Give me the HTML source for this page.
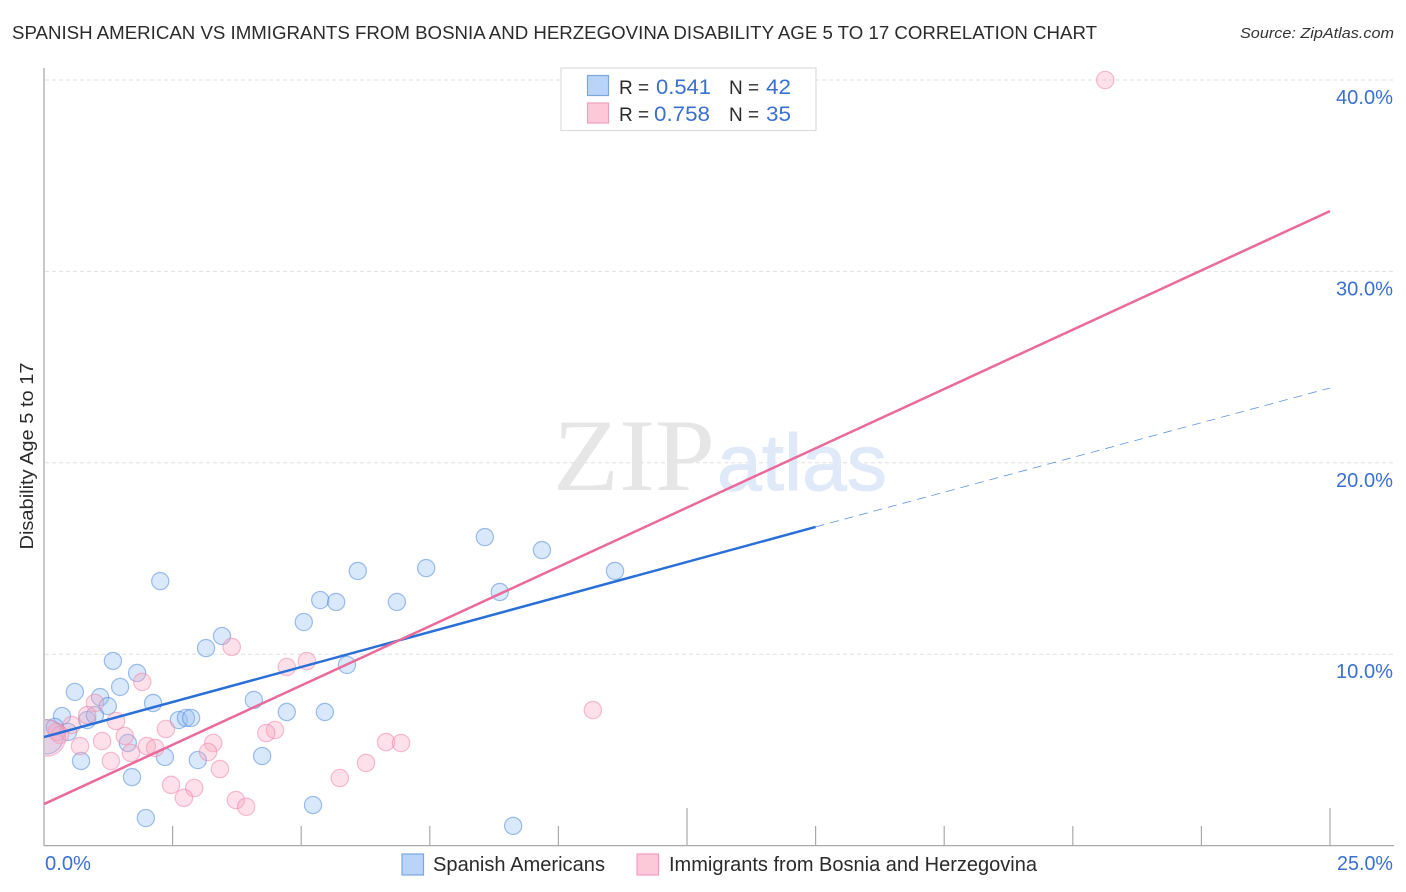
<!DOCTYPE html>
<html lang="en">
<head>
<meta charset="utf-8">
<title>Spanish American vs Immigrants from Bosnia and Herzegovina Disability Age 5 to 17 Correlation Chart</title>
<style>
html,body{margin:0;padding:0;background:#fff;width:1406px;height:892px;overflow:hidden}
svg{display:block;font-family:"Liberation Sans",sans-serif}
</style>
</head>
<body>
<svg id="chart" width="1406" height="892" viewBox="0 0 1406 892" xmlns="http://www.w3.org/2000/svg">
  <defs><clipPath id="plot-clip"><rect x="45" y="60" width="1349" height="785"/></clipPath></defs>

  <text x="12" y="39" font-size="18.5" fill="#2b2b2b" textLength="1085" lengthAdjust="spacingAndGlyphs">SPANISH AMERICAN VS IMMIGRANTS FROM BOSNIA AND HERZEGOVINA DISABILITY AGE 5 TO 17 CORRELATION CHART</text>
  <text x="1394" y="38" font-size="15" font-style="italic" fill="#333" text-anchor="end" textLength="154" lengthAdjust="spacingAndGlyphs">Source: ZipAtlas.com</text>

  <g id="grid"></g>

  <text x="553" y="490" font-family="'Liberation Serif',serif" font-size="103" fill="#e6e6e6" textLength="162" lengthAdjust="spacingAndGlyphs">ZIP</text>
  <text x="717" y="490" font-size="80" fill="#dfe9f8" stroke="#dfe9f8" stroke-width="1" textLength="170" lengthAdjust="spacingAndGlyphs">atlas</text>

  <g id="axes"></g>
  <g id="points" clip-path="url(#plot-clip)"></g>
  <g id="lines"></g>
  <g id="tick-labels"></g>

  <text transform="translate(33,456) rotate(-90)" font-size="18" fill="#2b2b2b" text-anchor="middle" textLength="187" lengthAdjust="spacingAndGlyphs">Disability Age 5 to 17</text>

  <g>
    <rect x="561" y="68" width="255" height="62.5" fill="#fff" stroke="#dcdcdc" stroke-width="1.2"/>
    <rect x="587.5" y="75.5" width="21" height="20" fill="#b9d4f8" stroke="#7ba6de" stroke-width="1.2"/>
    <rect x="587.5" y="103" width="21" height="20" fill="#fcc9d9" stroke="#f0a0ba" stroke-width="1.2"/>
    <text x="619" y="94" font-size="19" fill="#2b2b2b">R =</text>
    <text x="656" y="94" font-size="21" fill="#3a70d0" textLength="55" lengthAdjust="spacingAndGlyphs">0.541</text>
    <text x="729" y="94" font-size="19" fill="#2b2b2b">N =</text>
    <text x="766" y="94" font-size="21" fill="#3a70d0" textLength="25" lengthAdjust="spacingAndGlyphs">42</text>
    <text x="619" y="121" font-size="19" fill="#2b2b2b">R =</text>
    <text x="654" y="121" font-size="21" fill="#3a70d0" textLength="56" lengthAdjust="spacingAndGlyphs">0.758</text>
    <text x="729" y="121" font-size="19" fill="#2b2b2b">N =</text>
    <text x="766" y="121" font-size="21" fill="#3a70d0" textLength="25" lengthAdjust="spacingAndGlyphs">35</text>
  </g>

  <g>
    <rect x="402" y="854" width="21.5" height="21" fill="#b9d4f8" stroke="#7ba6de" stroke-width="1.2"/>
    <text x="433" y="871" font-size="20" fill="#2b2b2b" textLength="172" lengthAdjust="spacingAndGlyphs">Spanish Americans</text>
    <rect x="637" y="854" width="21.5" height="21" fill="#fcc9d9" stroke="#f0a0ba" stroke-width="1.2"/>
    <text x="669" y="871" font-size="20" fill="#2b2b2b" textLength="368" lengthAdjust="spacingAndGlyphs">Immigrants from Bosnia and Herzegovina</text>
  </g>
</svg>
<script>
// ---- chart data ----
const blueX = [0.04,2.26,8.57,9.68,7.43,6.10,11.10,8.86,5.37,5.68,6.86,5.05,3.46,3.15,1.34,1.81,5.89,1.48,0.60,1.09,1.24,2.12,4.08,4.72,5.46,0.35,0.84,0.99,2.62,2.76,2.86,0.21,0.47,1.63,2.35,2.99,4.24,0.72,1.71,1.98,5.23,9.12];
const blueY = [5.68,13.82,16.12,15.44,14.50,14.35,14.35,13.25,12.83,12.73,12.73,11.68,10.95,10.32,9.65,9.02,9.44,8.29,8.03,7.76,7.29,7.45,7.61,6.98,6.98,6.77,6.56,6.82,6.56,6.67,6.67,6.20,5.94,5.36,4.63,4.47,4.68,4.42,3.58,1.44,2.12,1.03];
const blueWeight = [4,1,1,1,1,1,1,1,1,1,1,1,1,1,1,1,1,1,1,1,1,1,1,1,1,1,1,1,1,1,1,1,1,1,1,1,1,1,1,1,1,1];
const pinkX = [20.63,10.67,3.65,4.72,5.11,1.91,0.99,0.84,1.40,0.54,2.37,4.49,4.32,1.57,1.13,3.29,6.65,6.94,0.70,2.00,2.16,1.69,3.19,1.30,6.26,3.42,5.75,2.47,2.92,2.72,3.73,3.93,0.25,0.31,0.06];
const pinkY = [40.0,7.08,10.38,9.33,9.64,8.55,7.45,6.82,6.51,6.30,6.09,6.04,5.88,5.73,5.46,5.36,5.41,5.36,5.20,5.20,5.10,4.84,4.89,4.42,4.32,4.00,3.53,3.17,3.01,2.49,2.38,2.03,5.94,5.78,5.63];
const pinkWeight = [1,1,1,1,1,1,1,1,1,1,1,1,1,1,1,1,1,1,1,1,1,1,1,1,1,1,1,1,1,1,1,1,1,1,4.4];
const blueTrendX = [0,15];
const blueTrendY = [5.67,16.65];
const blueDashX = [15,25];
const blueDashY = [16.65,23.91];
const pinkTrendX = [0,25];
const pinkTrendY = [2.17,33.15];
const yTicks = [10,20,30,40];
const yTickLabels = ["10.0%","20.0%","30.0%","40.0%"];
const xTicks = [2.5,5,7.5,10,12.5,15,17.5,20,22.5,25];
const xMajorTicks = [12.5,25];
const xEndLabels = ["0.0%","25.0%"];

// ---- axis functions ----
const NS = 'http://www.w3.org/2000/svg';
const X0 = 44, X1 = 1330, XMAX = 25;
const Y0 = 845.6, Y40 = 80;
const sx = v => X0 + (v / XMAX) * (X1 - X0);
const sy = v => Y0 - (v / 40) * (Y0 - Y40);
function mk(parent, tag, attrs) {
  const el = document.createElementNS(NS, tag);
  for (const k in attrs) el.setAttribute(k, attrs[k]);
  parent.appendChild(el);
  return el;
}
const gGrid = document.getElementById('grid');
const gAxes = document.getElementById('axes');
const gPts = document.getElementById('points');
const gLines = document.getElementById('lines');
const gLabels = document.getElementById('tick-labels');

// gridlines + y labels
yTicks.forEach((t, i) => {
  const g = mk(gGrid, 'line', {x1: 45, x2: 1394, y1: sy(t), y2: sy(t), stroke: '#e0e0e0', 'stroke-width': 1, 'stroke-dasharray': '4 3'});
  
  
  const l = mk(gLabels, 'text', {x: 1393, y: sy(t) + 24, 'font-size': 20, fill: '#3a70d0', 'text-anchor': 'end', textLength: 57, lengthAdjust: 'spacingAndGlyphs'});
  
  
  l.textContent = yTickLabels[i];
});

// axes
const yAxis = mk(gAxes, 'line', {x1: X0, x2: X0, y1: 68, y2: 846, stroke: '#aaaaaa', 'stroke-width': 1.3});


const xAxis = mk(gAxes, 'line', {x1: X0, x2: 1394, y1: 845.6, y2: 845.6, stroke: '#aaaaaa', 'stroke-width': 1.3});


xTicks.forEach(t => {
  const top = xMajorTicks.includes(t) ? 808 : 826;
  const k = mk(gAxes, 'line', {x1: sx(t), x2: sx(t), y1: top, y2: 845.6, stroke: '#aaaaaa', 'stroke-width': 1.2});
  
  
});
const xl0 = mk(gLabels, 'text', {x: 45, y: 870, 'font-size': 20, fill: '#3a70d0', textLength: 46, lengthAdjust: 'spacingAndGlyphs'});


xl0.textContent = xEndLabels[0];
const xl1 = mk(gLabels, 'text', {x: 1393, y: 870, 'font-size': 20, fill: '#3a70d0', 'text-anchor': 'end', textLength: 56, lengthAdjust: 'spacingAndGlyphs'});


xl1.textContent = xEndLabels[1];

// points
blueX.forEach((v, i) => {
  const c = mk(gPts, 'circle', {cx: sx(v), cy: sy(blueY[i]), r: 8.6 * Math.sqrt(blueWeight[i]), fill: 'rgba(150,190,240,0.36)', stroke: 'rgba(70,130,215,0.5)', 'stroke-width': 1.2});
  
  
});
pinkX.forEach((v, i) => {
  const c = mk(gPts, 'circle', {cx: sx(v), cy: sy(pinkY[i]), r: 8.7 * Math.sqrt(pinkWeight[i]), fill: 'rgba(250,170,195,0.36)', stroke: 'rgba(238,130,165,0.5)', 'stroke-width': 1.2});
  
  
});

// trend lines
const ld = mk(gLines, 'line', {x1: sx(blueDashX[0]), y1: sy(blueDashY[0]), x2: sx(blueDashX[1]), y2: sy(blueDashY[1]), stroke: '#2a6fd8', 'stroke-width': 0.8, 'stroke-dasharray': '9 6', opacity: 0.75});


const lb = mk(gLines, 'line', {x1: sx(blueTrendX[0]), y1: sy(blueTrendY[0]), x2: sx(blueTrendX[1]), y2: sy(blueTrendY[1]), stroke: '#2a6fd8', 'stroke-width': 2.5});


const lp = mk(gLines, 'line', {x1: sx(pinkTrendX[0]), y1: sy(pinkTrendY[0]), x2: sx(pinkTrendX[1]), y2: sy(pinkTrendY[1]), stroke: '#e96a9b', 'stroke-width': 2.5});


</script>
</body>
</html>
